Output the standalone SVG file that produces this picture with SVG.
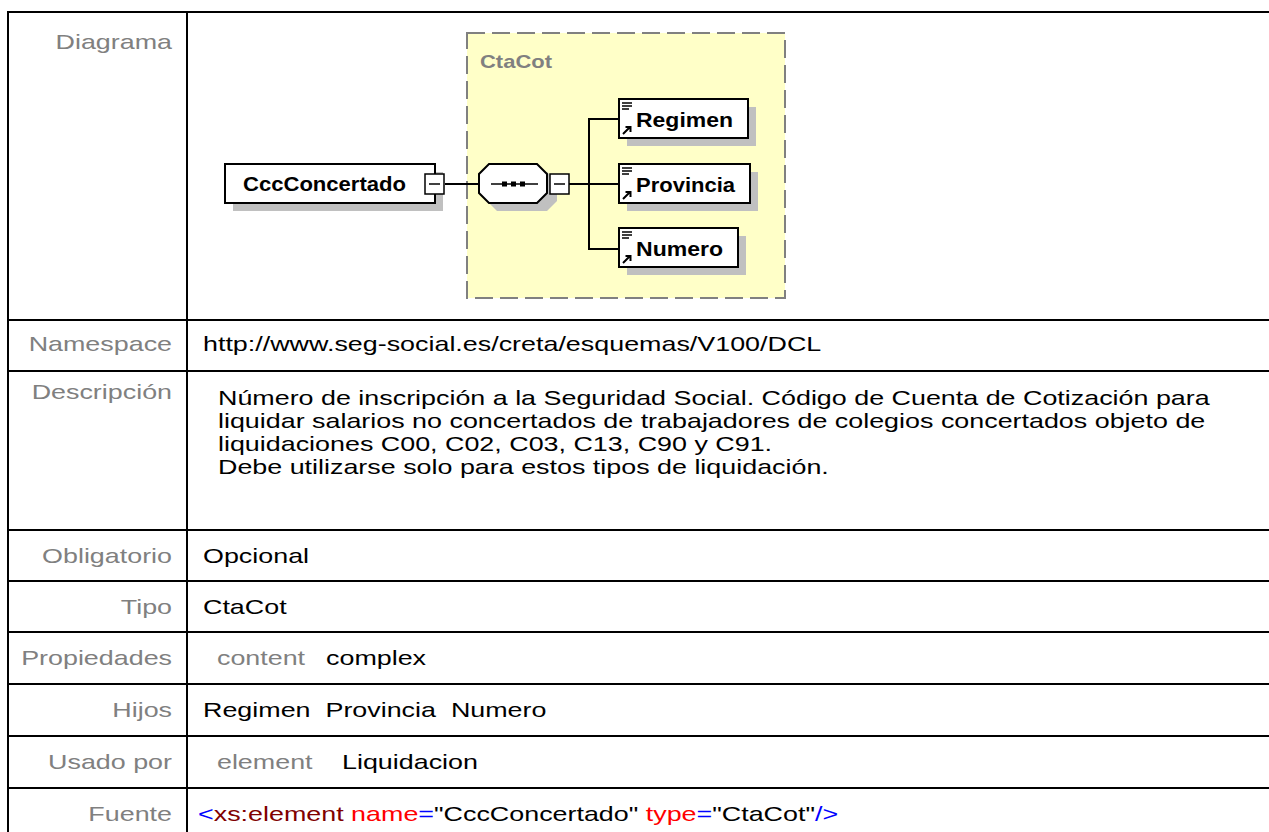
<svg xmlns="http://www.w3.org/2000/svg" width="1269" height="832" viewBox="0 0 1269 832">
<style>
.grid{stroke:#000;stroke-width:2;fill:none}
.t{font-family:"Liberation Sans",Arial,sans-serif;font-size:21px}
.lbl{fill:#808080;text-anchor:end}
.gray{fill:#808080}
.blk{fill:#000}
.box{fill:#fff;stroke:#000;stroke-width:2}
.shadow{fill:#c0c0c0}
.con{stroke:#000;stroke-width:2;fill:none}
.dn{font-family:"Liberation Sans",Arial,sans-serif;font-weight:bold;font-size:20px;fill:#000}
.pm{fill:#fff;stroke:#000;stroke-width:1.5}
.ic{stroke:#000;fill:none}
</style>
<rect x="0" y="0" width="1269" height="832" fill="#fff"/>
<g id="table">
<line class="grid" x1="8" y1="12" x2="1275" y2="12"/>
<line class="grid" x1="8" y1="11" x2="8" y2="840"/>
<line class="grid" x1="187" y1="11" x2="187" y2="840"/>
<line class="grid" x1="8" y1="320" x2="1275" y2="320"/>
<line class="grid" x1="8" y1="371" x2="1275" y2="371"/>
<line class="grid" x1="8" y1="530" x2="1275" y2="530"/>
<line class="grid" x1="8" y1="581" x2="1275" y2="581"/>
<line class="grid" x1="8" y1="632" x2="1275" y2="632"/>
<line class="grid" x1="8" y1="684" x2="1275" y2="684"/>
<line class="grid" x1="8" y1="736" x2="1275" y2="736"/>
<line class="grid" x1="8" y1="788" x2="1275" y2="788"/>
</g>
<g class="t" transform="scale(1.28,1)">
<text class="lbl" x="134.4" y="49">Diagrama</text>
<text class="lbl" x="134.4" y="351">Namespace</text>
<text class="lbl" x="134.4" y="399">Descripción</text>
<text class="lbl" x="134.4" y="563">Obligatorio</text>
<text class="lbl" x="134.4" y="614">Tipo</text>
<text class="lbl" x="134.4" y="665">Propiedades</text>
<text class="lbl" x="134.4" y="717">Hijos</text>
<text class="lbl" x="134.4" y="769">Usado por</text>
<text class="lbl" x="134.4" y="821">Fuente</text>
<text class="blk" x="158.6" y="351">http://www.seg-social.es/creta/esquemas/V100/DCL</text>
<text class="blk" x="170.3" y="405">Número de inscripción a la Seguridad Social. Código de Cuenta de Cotización para</text>
<text class="blk" x="170.3" y="428">liquidar salarios no concertados de trabajadores de colegios concertados objeto de</text>
<text class="blk" x="170.3" y="451">liquidaciones C00, C02, C03, C13, C90 y C91.</text>
<text class="blk" x="170.3" y="474">Debe utilizarse solo para estos tipos de liquidación.</text>
<text class="blk" x="158.6" y="563">Opcional</text>
<text class="blk" x="158.6" y="614">CtaCot</text>
<text class="gray" x="169.5" y="665">content</text>
<text class="blk" x="254.7" y="665">complex</text>
<text class="blk" x="158.6" y="717" xml:space="preserve">Regimen  Provincia  Numero</text>
<text class="gray" x="169.5" y="769">element</text>
<text class="blk" x="267.2" y="769">Liquidacion</text>
<text x="154.7" y="821"><tspan fill="#0000ff">&lt;</tspan><tspan fill="#800000">xs:element</tspan><tspan fill="#ff0000"> name</tspan><tspan fill="#0000ff">=</tspan><tspan fill="#000">"CccConcertado"</tspan><tspan fill="#ff0000"> type</tspan><tspan fill="#0000ff">=</tspan><tspan fill="#000">"CtaCot"</tspan><tspan fill="#0000ff">/&gt;</tspan></text>
</g>
<g id="CtaCot">
<rect x="467" y="33" width="318" height="265" fill="#ffffc8" stroke="#808080" stroke-width="2" stroke-dasharray="18 7"/>
<text x="480" y="68" font-family="'Liberation Sans',Arial,sans-serif" font-weight="bold" font-size="19" fill="#808080" textLength="72" lengthAdjust="spacingAndGlyphs">CtaCot</text>
</g>
<g id="connectors">
<line class="con" x1="445" y1="184" x2="480" y2="184"/>
<line class="con" x1="569" y1="184" x2="589" y2="184"/>
<line class="con" x1="589" y1="119" x2="589" y2="249"/>
<line class="con" x1="588" y1="119" x2="620" y2="119"/>
<line class="con" x1="589" y1="184" x2="620" y2="184"/>
<line class="con" x1="588" y1="249" x2="620" y2="249"/>
</g>
<g id="CccConcertado">
<rect class="shadow" x="233" y="172" width="210" height="39"/>
<rect class="box" x="225" y="164" width="210" height="39"/>
<text class="dn" x="243" y="191" textLength="163" lengthAdjust="spacingAndGlyphs">CccConcertado</text>
<rect class="pm" x="425" y="174" width="19" height="20"/>
<line x1="429" y1="184" x2="440" y2="184" stroke="#000" stroke-width="1.5"/>
</g>
<g id="sequence">
<polygon class="shadow" points="497,172 547,172 557,182 557,201 547,211 497,211 487,201 487,182"/>
<polygon class="box" points="489,164 537,164 547,174 547,193 537,203 489,203 479,193 479,174"/>
<line x1="491" y1="184" x2="538" y2="184" stroke="#000" stroke-width="1.5"/>
<rect x="502" y="181.5" width="5" height="5" fill="#000"/>
<rect x="511" y="181.5" width="5" height="5" fill="#000"/>
<rect x="520" y="181.5" width="5" height="5" fill="#000"/>
<rect class="pm" x="550" y="174" width="19" height="20"/>
<line x1="554" y1="184" x2="565" y2="184" stroke="#000" stroke-width="1.5"/>
</g>
<g id="Regimen">
<rect class="shadow" x="627" y="107" width="129" height="39"/>
<rect class="box" x="619" y="99" width="129" height="39"/>
<path class="ic" d="M622 103h10M622 106h10M622 109h7" stroke-width="1.3"/>
<path class="ic" d="M623 134l7-7M625.5 127h5v5" stroke-width="2"/>
<text class="dn" x="636" y="127" textLength="97" lengthAdjust="spacingAndGlyphs">Regimen</text>
</g>
<g id="Provincia">
<rect class="shadow" x="627" y="172" width="131" height="39"/>
<rect class="box" x="619" y="164" width="131" height="39"/>
<path class="ic" d="M622 168h10M622 171h10M622 174h7" stroke-width="1.3"/>
<path class="ic" d="M623 199l7-7M625.5 192h5v5" stroke-width="2"/>
<text class="dn" x="636" y="192" textLength="99" lengthAdjust="spacingAndGlyphs">Provincia</text>
</g>
<g id="Numero">
<rect class="shadow" x="627" y="236" width="119" height="39"/>
<rect class="box" x="619" y="228" width="119" height="39"/>
<path class="ic" d="M622 232h10M622 235h10M622 238h7" stroke-width="1.3"/>
<path class="ic" d="M623 263l7-7M625.5 256h5v5" stroke-width="2"/>
<text class="dn" x="636" y="256" textLength="87" lengthAdjust="spacingAndGlyphs">Numero</text>
</g>
</svg>
